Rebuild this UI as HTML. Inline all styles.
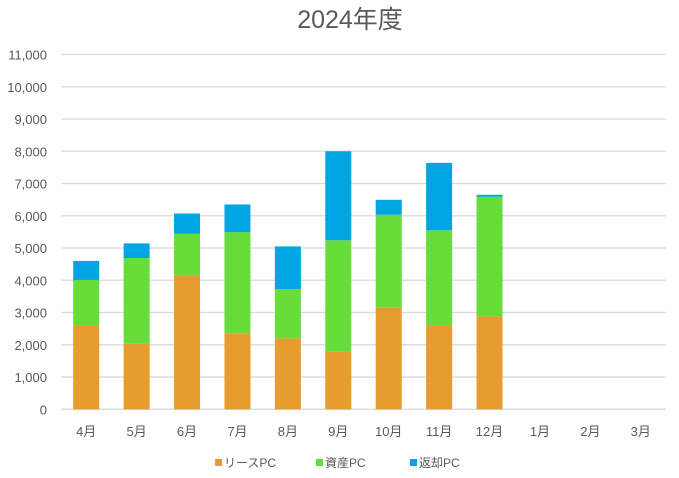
<!DOCTYPE html>
<html><head><meta charset="utf-8"><style>
body{margin:0;background:#fff;}
svg text{font-family:"Liberation Sans","Noto Sans CJK JP",sans-serif;fill:#595959;}
</style></head><body>
<svg id="chart" width="679" height="473" xmlns="http://www.w3.org/2000/svg">
<text x="350" y="28" text-anchor="middle" font-size="25">2024年度</text>
<g id="grid"></g><g id="bars"></g><g id="xlabels"></g><g id="ylabels"></g>
<g id="legend"></g>
</svg>
<script>
const categories=["4月","5月","6月","7月","8月","9月","10月","11月","12月","1月","2月","3月"];
const leaseValues=[2600,2050,4150,2360,2200,1780,3160,2600,2880,0,0,0];
const assetValues=[1410,2640,1300,3130,1530,3460,2870,2950,3710,0,0,0];
const returnValues=[590,455,620,860,1320,2760,465,2090,60,0,0,0];
const yTicks=[0,1000,2000,3000,4000,5000,6000,7000,8000,9000,10000,11000];
const seriesNames=["リースPC","資産PC","返却PC"];
const colors=["#E69C2F","#66DD3A","#00A5E2"];
const NS="http://www.w3.org/2000/svg";
const x0=61,x1=666,y0=409.3,yTop=54.5,yMax=11000;
const y=v=>y0-(v/yMax)*(y0-yTop);
const bw=(x1-x0)/categories.length;
const xc=i=>x0+bw*(i+0.5);
function mk(tag,attrs,parent){const e=document.createElementNS(NS,tag);for(const k in attrs)e.setAttribute(k,attrs[k]);document.getElementById(parent).appendChild(e);return e;}
yTicks.forEach(t=>{
  const l=mk("line",{x1:x0,x2:x1,y1:y(t),y2:y(t),stroke:"#d9d9d9","stroke-width":1.3},"grid");
  
  
  const tx=mk("text",{x:47,y:y(t)+5,"text-anchor":"end","font-size":"13"},"ylabels");
  tx.textContent=t.toLocaleString("en-US");
  
  
});
const series=[leaseValues,assetValues,returnValues];
categories.forEach((c,i)=>{
  let base=0;
  series.forEach((s,k)=>{
    const v=s[i];
    if(v>0){
      const r=mk("rect",{x:xc(i)-13,y:y(base+v),width:26,height:y(base)-y(base+v),fill:colors[k]},"bars");
      
      
    }
    base+=v;
  });
  const t=mk("text",{x:xc(i),y:436,"text-anchor":"middle","font-size":"13"},"xlabels");
  t.textContent=c;
  
  
});
const lx=[215,316,410];
seriesNames.forEach((n,k)=>{
  const r=mk("rect",{x:lx[k],y:459,width:7,height:7,fill:colors[k]},"legend");
  
  
  const t=mk("text",{x:lx[k]+9,y:467,"font-size":"12"},"legend");
  t.textContent=n;
  
  
});
</script>
</body></html>
